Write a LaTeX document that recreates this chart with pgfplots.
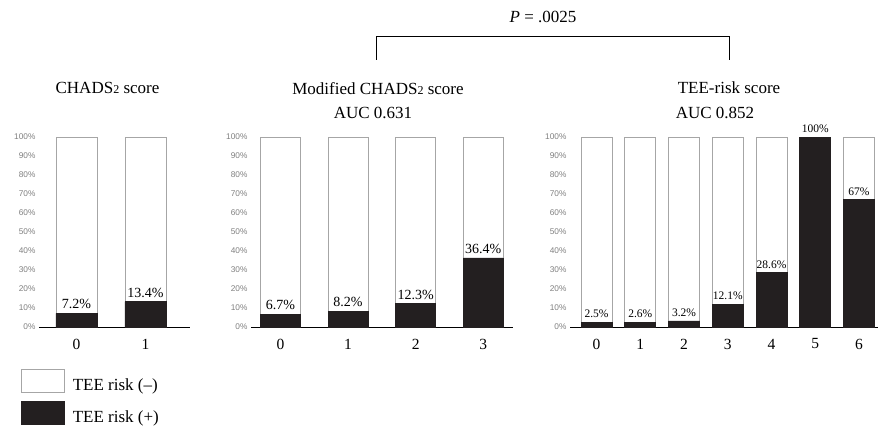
\documentclass[border=0pt]{standalone}
\usepackage{pgfplots}
\pgfplotsset{compat=1.18}
\usepackage{fontspec}
\setmainfont{Liberation Serif}
\setsansfont{Liberation Sans}
\definecolor{barblack}{HTML}{231F20}
\definecolor{edgegray}{HTML}{A6A6A6}
\definecolor{tickgray}{HTML}{7F7F7F}
\pgfplotsset{
  tee/.style={
    scale only axis, ybar, bar shift=0pt, clip=false,
    anchor=south west,
    ymin=0, ymax=100, height=190pt,
    axis x line*=bottom, axis y line*=left,
    y axis line style={draw=none},
    x axis line style={line width=0.8pt, black, -},
    major tick style={draw=none},
    ytick={0,10,20,30,40,50,60,70,80,90,100},
    yticklabels={0\%,10\%,20\%,30\%,40\%,50\%,60\%,70\%,80\%,90\%,100\%},
    yticklabel style={font=\fontsize{8.3}{10}\sffamily, text=tickgray},
    xticklabel style={font=\fontsize{15.5}{17}\selectfont, yshift=-4pt},
  },
  negbar/.style={fill=white, draw=edgegray, line width=0.8pt},
  posbar/.style={fill=barblack, draw=barblack, line width=0.6pt},
  legbox/.style={legend image code/.code={\draw[##1] (0pt,-7pt) rectangle (43pt,16pt);}},
  lab/.style={nodes near coords, point meta=explicit symbolic,
    every node near coord/.append style={font=\fontsize{#1}{#1}\selectfont, inner sep=1pt, yshift=3pt, text=black}},
}
\begin{document}
\begin{tikzpicture}
\path[use as bounding box] (0pt,0pt) rectangle (882pt,-425pt);

% Panel 1: CHADS2
\begin{axis}[tee, at={(39pt,-327pt)}, width=151pt,
  xmin=-0.543, xmax=1.645, bar width=41pt,
  xtick={0,1}, xticklabels={0,1},
  legend style={at={(-0.119,-0.222)}, anchor=north west, draw=none, fill=none,
    inner sep=0pt, outer sep=0pt, column sep=6pt, row sep=7pt,
    font=\fontsize{17}{20}\selectfont, cells={anchor=west}},
  legend cell align=left]
\addlegendimage{negbar, legbox}
\addlegendentry{TEE risk (--)}
\addlegendimage{posbar, legbox}
\addlegendentry{TEE risk (+)}
\addplot[negbar, forget plot] coordinates {(0,100) (1,100)};
\addplot[posbar, lab=14, forget plot] coordinates {(0,7.2) [7.2\%] (1,13.4) [13.4\%]};
\end{axis}

% Panel 2: Modified CHADS2
\begin{axis}[tee, at={(251pt,-327pt)}, width=262pt,
  xmin=-0.436, xmax=3.44, bar width=40pt,
  xtick={0,1,2,3}, xticklabels={0,1,2,3}]
\addplot[negbar] coordinates {(0,100) (1,100) (2,100) (3,100)};
\addplot[posbar, lab=14] coordinates {(0,6.7) [6.7\%] (1,8.2) [8.2\%] (2,12.3) [12.3\%] (3,36.4) [36.4\%]};
\end{axis}

% Panel 3: TEE-risk
\begin{axis}[tee, at={(570pt,-327pt)}, width=308pt,
  xmin=-0.606, xmax=6.434, bar width=31pt,
  xtick={0,1,2,3,4,5,6}, xticklabels={0,1,2,3,4,5,6}]
\addplot[negbar] coordinates {(0,100) (1,100) (2,100) (3,100) (4,100) (5,100) (6,100)};
\addplot[posbar, lab=11.5] coordinates {(0,2.5) [2.5\%] (1,2.6) [2.6\%] (2,3.2) [3.2\%] (3,12.1) [12.1\%] (4,28.6) [28.6\%] (5,100) [100\%] (6,67) [67\%]};
\end{axis}

% Titles
\begin{scope}[every node/.style={font=\fontsize{17}{20}\selectfont, anchor=base, inner sep=0pt}]
\node at (107.5pt,-94pt) {CHADS{\fontsize{12}{12}\selectfont 2} score};
\node at (378pt,-95pt) {Modified CHADS{\fontsize{12}{12}\selectfont 2} score};
\node at (373pt,-118pt) {AUC 0.631};
\node at (729pt,-94pt) {TEE-risk score};
\node at (715pt,-118pt) {AUC 0.852};
\node at (543pt,-23pt) {\textit{P} = .0025};
\end{scope}
\draw[line width=0.8pt] (376pt,-60pt) -- (376pt,-36pt) -- (729pt,-36pt) -- (729pt,-60pt);
\end{tikzpicture}
\end{document}
